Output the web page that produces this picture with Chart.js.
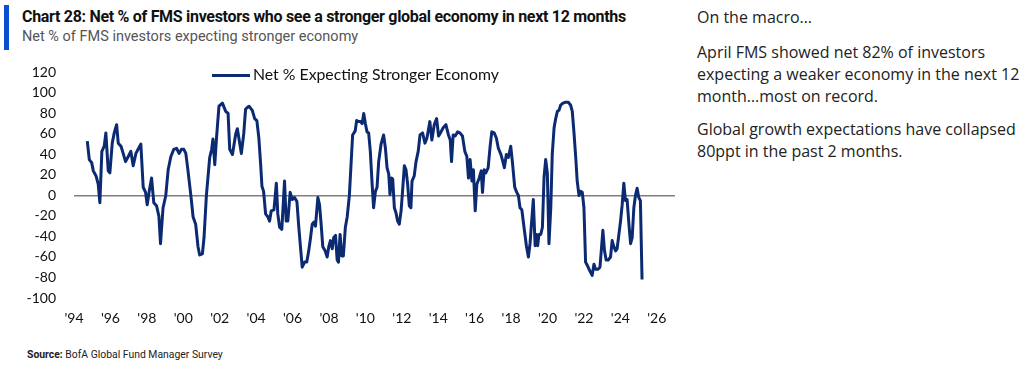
<!DOCTYPE html>
<html>
<head>
<meta charset="utf-8">
<script src="https://cdn.jsdelivr.net/npm/chart.js@4"></script>
<style>
  body { margin: 0; background: #fff; width: 1024px; height: 365px; position: relative; overflow: hidden; }
  .bar { position: absolute; left: 4px; top: 5px; width: 5px; height: 45px; background: #0a4fd0; }
  .title { position: absolute; left: 22px; top: 7px; font-family: 'Roboto', sans-serif; font-weight: bold; font-size: 16px; color: #111; white-space: nowrap; letter-spacing: -0.3px; }
  .sub { position: absolute; left: 22px; top: 28px; font-family: 'Roboto', sans-serif; font-size: 14.5px; color: #555; white-space: nowrap; }
  .note { position: absolute; left: 697px; font-family: 'Open Sans', sans-serif; font-size: 16px; color: #222; line-height: 22px; }
  .src { position: absolute; left: 27px; top: 348px; font-family: 'Roboto', sans-serif; font-size: 10.4px; color: #222; }
  #wrap { position: absolute; left: 0; top: 46px; width: 690px; height: 284px; }
  .legend { position: absolute; left: 212px; top: 64px; font-family: 'Lato', sans-serif; font-size: 15.8px; color: #111; white-space: nowrap; }
  .legend span { display: inline-block; width: 38px; height: 3px; background: #0c2a72; vertical-align: middle; margin-right: 3px; position: relative; top: -1px; }
</style>
</head>
<body>
<div class="bar"></div>
<div class="title">Chart 28: Net % of FMS investors who see a stronger global economy in next 12 months</div>
<div class="sub">Net % of FMS investors expecting stronger economy</div>
<div class="note" style="top:6px">On the macro…</div>
<div class="note" style="top:41px">April FMS showed net 82% of investors<br>expecting a weaker economy in the next 12<br>month…most on record.</div>
<div class="note" style="top:118px">Global growth expectations have collapsed<br>80ppt in the past 2 months.</div>
<div class="src"><b>Source:</b> BofA Global Fund Manager Survey</div>
<div id="wrap"><canvas id="grafico"></canvas></div>
<div class="legend" id="legenda"></div>
<script>
const seriesLabel = 'Net % Expecting Stronger Economy';

const years = [
  1994.73, 1994.84, 1994.97, 1995.06, 1995.21, 1995.33, 1995.42, 1995.53, 1995.66, 1995.75,
  1995.88, 1995.97, 1996.10, 1996.21, 1996.34, 1996.43, 1996.58, 1996.70, 1996.83, 1996.98,
  1997.12, 1997.25, 1997.40, 1997.52, 1997.67, 1997.80, 1997.93, 1998.02, 1998.13, 1998.26,
  1998.38, 1998.53, 1998.66, 1998.75, 1998.89, 1999.04, 1999.17, 1999.32, 1999.48, 1999.63,
  1999.77, 1999.90, 2000.03, 2000.14, 2000.26, 2000.41, 2000.54, 2000.68, 2000.81, 2000.90,
  2001.05, 2001.14, 2001.27, 2001.45, 2001.56, 2001.63, 2001.73, 2001.82, 2001.96, 2002.15,
  2002.33, 2002.46, 2002.55, 2002.70, 2002.88, 2002.97, 2003.19, 2003.32, 2003.42, 2003.53,
  2003.61, 2003.79, 2003.92, 2004.04, 2004.15, 2004.25, 2004.32, 2004.41, 2004.52, 2004.65,
  2004.74, 2004.83, 2004.98, 2005.11, 2005.19, 2005.29, 2005.41, 2005.56, 2005.65, 2005.74,
  2005.87, 2005.98, 2006.11, 2006.24, 2006.33, 2006.42, 2006.53, 2006.66, 2006.78, 2006.88,
  2006.99, 2007.08, 2007.17, 2007.26, 2007.39, 2007.48, 2007.57, 2007.66, 2007.79, 2007.90,
  2007.99, 2008.08, 2008.18, 2008.26, 2008.36, 2008.45, 2008.52, 2008.61, 2008.70, 2008.79,
  2008.90, 2009.00, 2009.12, 2009.22, 2009.30, 2009.44, 2009.52, 2009.62, 2009.73, 2009.82,
  2009.91, 2010.00, 2010.09, 2010.18, 2010.27, 2010.37, 2010.45, 2010.55, 2010.64, 2010.73,
  2010.86, 2011.00, 2011.10, 2011.19, 2011.28, 2011.35, 2011.44, 2011.50, 2011.59, 2011.68,
  2011.77, 2011.86, 2011.96, 2012.04, 2012.14, 2012.23, 2012.32, 2012.41, 2012.50, 2012.56,
  2012.68, 2012.78, 2012.90, 2013.00, 2013.14, 2013.27, 2013.38, 2013.54, 2013.65, 2013.78,
  2013.91, 2014.02, 2014.15, 2014.27, 2014.42, 2014.56, 2014.66, 2014.73, 2014.82, 2014.93,
  2015.06, 2015.19, 2015.33, 2015.46, 2015.57, 2015.66, 2015.75, 2015.85, 2015.93, 2016.03,
  2016.12, 2016.25, 2016.36, 2016.43, 2016.52, 2016.61, 2016.74, 2016.85, 2016.94, 2017.07,
  2017.19, 2017.30, 2017.44, 2017.52, 2017.63, 2017.74, 2017.85, 2017.98, 2018.07, 2018.20,
  2018.31, 2018.40, 2018.49, 2018.59, 2018.71, 2018.84, 2018.95, 2019.04, 2019.13, 2019.22,
  2019.32, 2019.39, 2019.46, 2019.53, 2019.63, 2019.72, 2019.81, 2019.90, 2019.99, 2020.08,
  2020.18, 2020.26, 2020.36, 2020.45, 2020.54, 2020.63, 2020.72, 2020.85, 2021.00, 2021.14,
  2021.27, 2021.36, 2021.45, 2021.55, 2021.63, 2021.73, 2021.82, 2021.91, 2022.00, 2022.09,
  2022.18, 2022.31, 2022.45, 2022.55, 2022.64, 2022.77, 2022.88, 2022.97, 2023.04, 2023.13,
  2023.22, 2023.33, 2023.46, 2023.55, 2023.64, 2023.74, 2023.82, 2023.92, 2024.01, 2024.10,
  2024.19, 2024.28, 2024.37, 2024.47, 2024.56, 2024.65, 2024.74, 2024.83, 2024.92, 2025.01,
  2025.10, 2025.19
];

const netPct = [
  53, 35, 32, 24, 19, 11, -7, 43, 48, 61,
  24, 22, 51, 61, 69, 51, 48, 41, 33, 38,
  43, 29, 41, 45, 50, 8, 3, -9, 4, 17,
  -7, -10, -20, -47, -12, 0, 25, 38, 45, 46,
  41, 45, 45, 41, 24, 1, -21, -28, -50, -58,
  -57, -41, 0, 37, 45, 55, 30, 55, 87, 90,
  82, 80, 45, 40, 60, 65, 41, 60, 84, 86,
  87, 83, 75, 73, 56, 30, 9, 4, -18, -21,
  -25, -15, -14, 12, -18, -31, -33, 14, -25, -25,
  3, -4, -2, -6, -28, -47, -70, -65, -65, -55,
  -41, -28, -26, -30, -2, -9, -28, -50, -54, -60,
  -50, -44, -52, -41, -39, -63, -65, -38, -59, -59,
  -31, -21, 0, 33, 59, 63, 73, 72, 72, 70,
  80, 70, 62, 61, 43, 11, -12, 4, 8, 33,
  50, 59, 46, 27, 21, 1, 17, 16, -12, -17,
  -25, -28, -15, 4, 29, 25, 11, -10, -12, 14,
  19, 33, 43, 59, 61, 51, 56, 72, 54, 69,
  75, 58, 62, 66, 69, 59, 54, 33, 59, 58,
  62, 61, 58, 43, 38, 17, 35, 14, 25, -15,
  11, 17, 24, 3, 25, 22, 27, 48, 62, 61,
  56, 46, 40, 35, 27, 40, 37, 48, 33, 8,
  3, 0, -12, -14, -31, -49, -60, -47, -25, -4,
  -49, -38, -49, -38, -38, -31, 18, 35, 22, -47,
  -12, 40, 66, 75, 82, 83, 88, 90, 91, 91,
  88, 82, 62, 37, 14, 0, 4, 3, -12, -65,
  -68, -73, -78, -67, -72, -72, -70, -50, -34, -54,
  -63, -63, -60, -44, -50, -54, -52, -38, -25, -9,
  12, -5, -4, -28, -47, -41, -12, 0, 7, -2,
  -5, -82
];

const yTicks = [-100, -80, -60, -40, -20, 0, 20, 40, 60, 80, 100, 120];

const navy = '#0c2a72';
document.getElementById('legenda').innerHTML = '<span></span>' + seriesLabel;

const pontos = years.map((ano, i) => ({ x: ano, y: netPct[i] }));

new Chart(document.getElementById('grafico'), {
  type: 'line',
  data: {
    datasets: [{
      label: seriesLabel,
      data: pontos,
      borderColor: navy,
      backgroundColor: navy,
      borderWidth: 3,
      pointRadius: 0,
      tension: 0,
      borderJoinStyle: 'round'
    }]
  },
  options: {
    responsive: true,
    maintainAspectRatio: false,
    animation: false,
    layout: { autoPadding: false, padding: { top: 11, right: 15, left: 0, bottom: 0 } },
    plugins: { legend: { display: false }, tooltip: { enabled: false } },
    scales: {
      x: {
        type: 'linear',
        min: 1994,
        max: 2027,
        grid: { display: false, drawTicks: false },
        border: { display: false },
        afterFit: (s) => { s.height = 32; },
        ticks: {
          stepSize: 2,
          includeBounds: false,
          maxRotation: 0,
          autoSkip: false,
          padding: 12,
          color: '#111',
          font: { family: 'Lato', size: 14 },
          callback: (v) => (v % 2 === 0 ? "'" + String(v).slice(2) : '')
        }
      },
      y: {
        min: yTicks[0],
        max: yTicks[yTicks.length - 1],
        afterFit: (s) => { s.width = 74; },
        border: { display: false },
        grid: {
          drawTicks: false,
          lineWidth: (c) => (c.tick && c.tick.value === 0 ? 1.5 : 0),
          color: (c) => (c.tick && c.tick.value === 0 ? '#7f7f7f' : 'rgba(0,0,0,0)')
        },
        ticks: {
          stepSize: 20,
          autoSkip: false,
          padding: 18,
          color: '#111',
          font: { family: 'Lato', size: 14 }
        }
      }
    }
  }
});
</script>
</body>
</html>
